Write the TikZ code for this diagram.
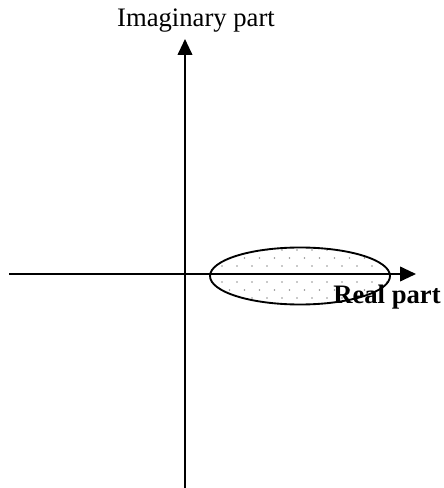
\documentclass[tikz,border=0pt]{standalone}
\usepackage{fontspec}
\setmainfont{Liberation Serif}
\usetikzlibrary{arrows.meta}
\begin{document}
\begin{tikzpicture}[x=0.75pt,y=-0.75pt,
  axis/.style={line width=1.4pt,-{Triangle[length=12pt,width=11pt]}},
  lbl/.style={font=\fontsize{20}{24}\selectfont,inner sep=0pt}]
\useasboundingbox (0,0) rectangle (443,488);
% dotted ellipse fill
\begin{scope}
  \clip (300,276) ellipse [x radius=90, y radius=28.5];
  \foreach \r in {0,...,8} {
    \foreach \c in {0,...,13} {
      \pgfmathsetmacro\xx{207+\c*15+mod(\r,2)*7.5}
      \pgfmathsetmacro\yy{250+\r*8}
      \fill[gray!85] (\xx,\yy) circle [radius=0.9];
    }
  }
\end{scope}
\draw[line width=1.4pt] (300,276) ellipse [x radius=90, y radius=28.5];
\coordinate (xs) at (9,274);
\coordinate (xe) at (416,274);
\coordinate (ys) at (185,488);
\coordinate (ye) at (185,39);
\draw[axis] (xs) -- (xe);
\draw[axis] (ys) -- (ye);
\node[lbl] (im) at (196,21) {Imaginary part};
\node[lbl,font=\fontsize{20}{24}\selectfont\bfseries] (re) at (387,297) {Real part};
\end{tikzpicture}
\end{document}
